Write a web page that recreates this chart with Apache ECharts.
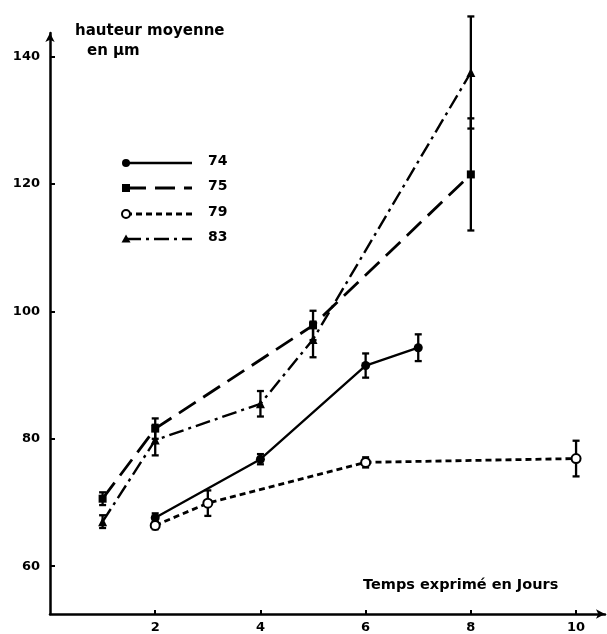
<!DOCTYPE html>
<html>
<head>
<meta charset="utf-8">
<script src="https://cdn.jsdelivr.net/npm/echarts@6/dist/echarts.min.js"></script>
<style>html,body{margin:0;padding:0;background:#fff;}#c{width:607px;height:634px;}</style>
</head>
<body>
<div id="c"></div>
<script>
// Data
const seriesNames = ['74', '75', '79', '83'];
const days74 = [2, 4, 6, 7];
const vals74 = [67.6, 76.8, 91.5, 94.3];
const errs74 = [0.7, 0.8, 1.9, 2.1];
const days75 = [1, 2, 5, 8];
const vals75 = [70.6, 81.6, 97.8, 121.5];
const errs75 = [1.0, 1.6, 2.3, 8.8];
const days79 = [2, 3, 6, 10];
const vals79 = [66.4, 69.9, 76.3, 76.9];
const errs79 = [0.6, 2.0, 0.8, 2.8];
const days83 = [1, 2, 4, 5, 8];
const vals83 = [67.0, 79.8, 85.5, 95.6, 137.5];
const errs83 = [1.0, 2.4, 2.0, 2.8, 8.8];
const xTicks = [2, 4, 6, 8, 10];
const yTicks = [60, 80, 100, 120, 140];

const FONT = 'DejaVu Sans';
const zip = (d, v) => d.map((x, i) => [x, v[i]]);
const zipE = (d, v, e) => d.map((x, i) => [x, v[i], e[i]]);

const styles = {
  '74': { dash: 'solid', symbol: 'circle', size: 9, fill: '#000', width: 2.3 },
  '75': { dash: [20, 9], symbol: 'rect', size: 8, fill: '#000', width: 2.8 },
  '79': { dash: [6, 4], symbol: 'circle', size: 9, fill: '#fff', width: 2.8 },
  '83': { dash: [15, 5, 3, 5], symbol: 'triangle', size: 9, fill: '#000', width: 2.4 }
};
const sets = {
  '74': [days74, vals74, errs74],
  '75': [days75, vals75, errs75],
  '79': [days79, vals79, errs79],
  '83': [days83, vals83, errs83]
};

function errRender(params, api) {
  const x = api.value(0), y = api.value(1), e = api.value(2);
  const t = api.coord([x, y + e]), b = api.coord([x, y - e]);
  const w = 3.5;
  const st = { stroke: '#000', lineWidth: 2.3 };
  return { type: 'group', children: [
    { type: 'line', shape: { x1: t[0], y1: t[1], x2: b[0], y2: b[1] }, style: st },
    { type: 'line', shape: { x1: t[0] - w, y1: t[1], x2: t[0] + w, y2: t[1] }, style: st },
    { type: 'line', shape: { x1: b[0] - w, y1: b[1], x2: b[0] + w, y2: b[1] }, style: st }
  ]};
}

const series = [];
seriesNames.forEach(n => {
  const [d, v, e] = sets[n];
  const s = styles[n];
  series.push({
    type: 'custom', name: n + ' err', renderItem: errRender,
    data: zipE(d, v, e), z: 3, silent: true
  });
  series.push({
    type: 'line', name: n, data: zip(d, v), z: 4,
    symbol: s.symbol, symbolSize: s.size, showSymbol: true,
    lineStyle: { color: '#000', width: s.width, type: s.dash },
    itemStyle: { color: s.fill, borderColor: '#000', borderWidth: n === '79' ? 2 : 0 },
    animation: false
  });
});

// legend drawn as graphic (symbol at left end, text at right)
const legendRows = [163, 188, 214, 239];
const graphic = [
  { type: 'text', left: 75, top: 24, style: { text: 'hauteur moyenne', font: 'bold 15px ' + FONT, fill: '#000' } },
  { type: 'text', left: 87, top: 44, style: { text: 'en µm', font: 'bold 15px ' + FONT, fill: '#000' } },
  { type: 'text', left: 363, top: 578, style: { text: 'Temps exprimé en Jours', font: 'bold 14.5px ' + FONT, fill: '#000' } }
];
seriesNames.forEach((n, i) => {
  const s = styles[n];
  const y = legendRows[i];
  graphic.push({ type: 'line', shape: { x1: 126, y1: y, x2: 192, y2: y },
    style: { stroke: '#000', lineWidth: s.width, lineDash: s.dash === 'solid' ? null : s.dash } });
  let shape;
  if (s.symbol === 'circle') {
    shape = { type: 'circle', shape: { cx: 126, cy: y, r: 4 }, style: { fill: s.fill, stroke: '#000', lineWidth: n === '79' ? 2 : 0 } };
  } else if (s.symbol === 'rect') {
    shape = { type: 'rect', shape: { x: 122, y: y - 4, width: 8, height: 8 }, style: { fill: '#000' } };
  } else {
    shape = { type: 'polygon', shape: { points: [[126, y - 4.5], [130.5, y + 3.5], [121.5, y + 3.5]] }, style: { fill: '#000' } };
  }
  graphic.push(shape);
  graphic.push({ type: 'text', left: 208, top: y - 9, style: { text: n, font: 'bold 14px ' + FONT, fill: '#000' } });
});

const chart = echarts.init(document.getElementById('c'));
chart.setOption({
  backgroundColor: '#fff',
  animation: false,
  grid: { left: 50, right: 2, top: 33, bottom: 19, containLabel: false },
  xAxis: {
    type: 'value', min: 0, max: 10.55,
    axisLine: { show: true, lineStyle: { color: '#000', width: 2.5 }, symbol: ['none', 'arrow'], symbolSize: [7, 9] },
    axisTick: { show: true, inside: true, length: 4, lineStyle: { color: '#000', width: 2 }, customValues: xTicks },
    axisLabel: { show: true, margin: 7, color: '#000', fontFamily: FONT, fontWeight: 'bold', fontSize: 13, customValues: xTicks },
    splitLine: { show: false }
  },
  yAxis: {
    type: 'value', min: 52.5, max: 143.7,
    axisLine: { show: true, lineStyle: { color: '#000', width: 2.5 }, symbol: ['none', 'arrow'], symbolSize: [7, 9] },
    axisTick: { show: true, inside: true, length: 5, lineStyle: { color: '#000', width: 2 }, customValues: yTicks },
    axisLabel: { show: true, margin: 10, color: '#000', fontFamily: FONT, fontWeight: 'bold', fontSize: 13, customValues: yTicks },
    splitLine: { show: false }
  },
  graphic: graphic,
  series: series
});
</script>
</body>
</html>
